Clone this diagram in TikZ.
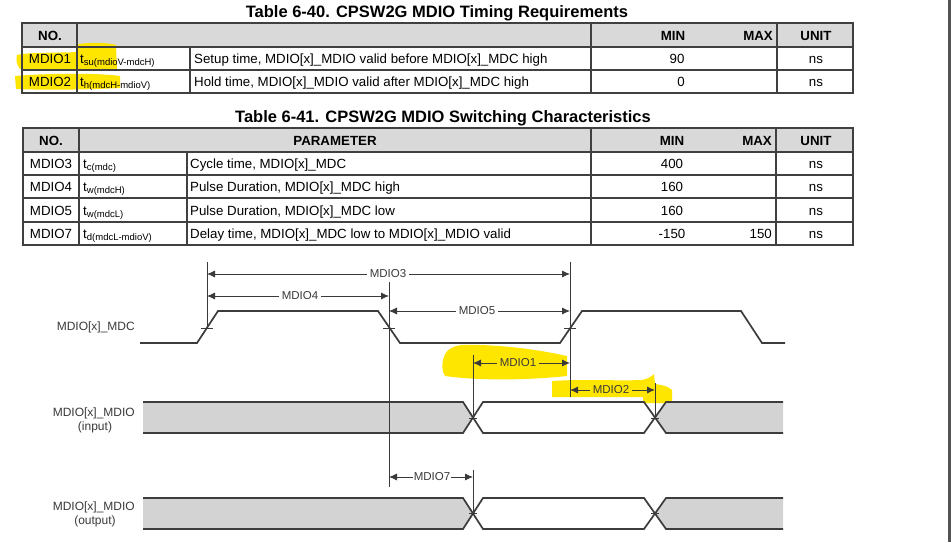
\documentclass[tikz,border=0pt]{standalone}
\usepackage{fontspec}
\setmainfont{Liberation Sans}
\usetikzlibrary{arrows.meta}
\definecolor{hdr}{HTML}{D9D9D9}
\definecolor{busgray}{HTML}{D3D3D3}
\definecolor{grid}{HTML}{404040}
\definecolor{sig}{HTML}{3C3C3C}
\definecolor{lbl}{HTML}{3A3A3A}
\definecolor{hl}{HTML}{FFE600}
\newcommand{\sbs}[1]{\raisebox{-0.4ex}{\fontsize{9.5}{10}\selectfont #1}}
\tikzset{
  ttl/.style={font=\fontsize{16.5}{18}\selectfont\bfseries, inner sep=0pt},
  cell/.style={font=\fontsize{13.3}{15}\selectfont, inner sep=0pt, text=black, anchor=base},
  hcell/.style={font=\fontsize{13.3}{15}\selectfont\bfseries, inner sep=0pt, text=black, anchor=base},
  gridline/.style={draw=grid, line width=1.1pt},
  siglbl/.style={font=\fontsize{12}{13}\selectfont, text=lbl, inner sep=0pt},
  dimlbl/.style={font=\fontsize{11.5}{12}\selectfont, text=lbl, inner sep=3pt},
  dim/.style={draw=lbl, line width=0.8pt, -{Latex[length=8pt,width=7pt]}},
  refline/.style={draw=lbl, line width=0.8pt},
  wave/.style={draw=sig, line width=1.7pt, line join=miter},
  tick/.style={draw=lbl, line width=0.8pt},
  hilite/.style={fill=hl, draw=none}
}
\begin{document}
\begin{tikzpicture}[x=1pt, y=-1pt]
\useasboundingbox (0,0) rectangle (951,542);
\fill[white] (0,0) rectangle (951,542);
\fill[grid!90] (948,0) rectangle (951,542);

% ---------------- Table 6-40 ----------------
\node[ttl] (t1) at (437,13) {Table 6-40. CPSW2G MDIO Timing Requirements};
\fill[hdr] (22,23) rectangle (853,47);
% highlights
\fill[hilite] (17,55) .. controls (30,52) and (60,53) .. (77,52) -- (78,44) .. controls (95,42) and (110,43) .. (116,45) -- (117,70) -- (20,69) .. controls (16,64) and (16,59) .. (17,55) -- cycle;
\fill[hilite] (15,76) .. controls (50,73) and (100,73) .. (120,76) -- (120,88) .. controls (80,90) and (40,90) .. (16,89) -- cycle;
% grid
\draw[gridline] (22,23) rectangle (853,93);
\draw[gridline] (22,47) -- (853,47);
\draw[gridline] (22,70) -- (853,70);
\draw[gridline] (77,23) -- (77,93);
\draw[gridline] (190,47) -- (190,93);
\draw[gridline] (591,23) -- (591,93);
\draw[gridline] (777,23) -- (777,93);
% header
\node[hcell] (h1no) at (50,40) {NO.};
\node[hcell] (h1min) at (673,40) {MIN};
\node[hcell, anchor=base east] (h1max) at (773,40) {MAX};
\node[hcell] (h1unit) at (816,40) {UNIT};
% rows
\node[cell] (r1no) at (50,63) {MDIO1};
\node[cell, anchor=base west] (r1sym) at (80,63) {t\sbs{su(mdioV-mdcH)}};
\node[cell, anchor=base west] (r1par) at (194,63) {Setup time, MDIO[x]\_MDIO valid before MDIO[x]\_MDC high};
\node[cell] (r1min) at (677,63) {90};
\node[cell] (r1unit) at (816,63) {ns};
\node[cell] (r2no) at (50,86) {MDIO2};
\node[cell, anchor=base west] (r2sym) at (80,86) {t\sbs{h(mdcH-mdioV)}};
\node[cell, anchor=base west] (r2par) at (194,86) {Hold time, MDIO[x]\_MDIO valid after MDIO[x]\_MDC high};
\node[cell] (r2min) at (681,86) {0};
\node[cell] (r2unit) at (816,86) {ns};

% ---------------- Table 6-41 ----------------
\node[ttl] (t2) at (443,118) {Table 6-41. CPSW2G MDIO Switching Characteristics};
\fill[hdr] (23,128) rectangle (853,152);
\draw[gridline] (23,128) rectangle (853,245);
\foreach \yy in {152,175,198,222} \draw[gridline] (23,\yy) -- (853,\yy);
\draw[gridline] (79,128) -- (79,245);
\draw[gridline] (187,152) -- (187,245);
\draw[gridline] (591,128) -- (591,245);
\draw[gridline] (776,128) -- (776,245);
\node[hcell] (h2no) at (51,145) {NO.};
\node[hcell] (h2par) at (335,145) {PARAMETER};
\node[hcell] (h2min) at (672,145) {MIN};
\node[hcell, anchor=base east] (h2max) at (772,145) {MAX};
\node[hcell] (h2unit) at (816,145) {UNIT};
\node[cell] (r3no) at (51,168) {MDIO3};
\node[cell, anchor=base west] (r3sym) at (83,168) {t\sbs{c(mdc)}};
\node[cell, anchor=base west] (r3par) at (190,168) {Cycle time, MDIO[x]\_MDC};
\node[cell] (r3min) at (672,168) {400};
\node[cell] (r3unit) at (816,168) {ns};
\node[cell] (r4no) at (51,191) {MDIO4};
\node[cell, anchor=base west] (r4sym) at (83,191) {t\sbs{w(mdcH)}};
\node[cell, anchor=base west] (r4par) at (190,191) {Pulse Duration, MDIO[x]\_MDC high};
\node[cell] (r4min) at (672,191) {160};
\node[cell] (r4unit) at (816,191) {ns};
\node[cell] (r5no) at (51,215) {MDIO5};
\node[cell, anchor=base west] (r5sym) at (83,215) {t\sbs{w(mdcL)}};
\node[cell, anchor=base west] (r5par) at (190,215) {Pulse Duration, MDIO[x]\_MDC low};
\node[cell] (r5min) at (672,215) {160};
\node[cell] (r5unit) at (816,215) {ns};
\node[cell] (r7no) at (51,238) {MDIO7};
\node[cell, anchor=base west] (r7sym) at (83,238) {t\sbs{d(mdcL-mdioV)}};
\node[cell, anchor=base west] (r7par) at (190,238) {Delay time, MDIO[x]\_MDC low to MDIO[x]\_MDIO valid};
\node[cell] (r7min) at (672,238) {-150};
\node[cell, anchor=base east] (r7max) at (772,238) {150};
\node[cell] (r7unit) at (816,238) {ns};

% ---------------- Timing diagram ----------------
% highlights
\fill[hilite] (443,360) .. controls (445,350) and (452,346) .. (462,345) .. controls (500,344) and (540,350) .. (567,356) -- (567,376) .. controls (530,380) and (480,381) .. (445,376) .. controls (442,372) and (442,365) .. (443,360) -- cycle;
\fill[hilite] (552,381) .. controls (580,379) and (620,381) .. (642,380) .. controls (648,379) and (652,376) .. (654,374) -- (655,384) .. controls (662,385) and (668,386) .. (672,390) -- (672,403) -- (643,403) -- (643,397) -- (552,397) -- cycle;

% signal labels
\node[siglbl, anchor=east] (lmdc) at (135,327) {MDIO[x]\_MDC};
\node[siglbl, anchor=east] (lin) at (135,413) {MDIO[x]\_MDIO};
\node[siglbl] (lin2) at (95,427) {(input)};
\node[siglbl, anchor=east] (lout) at (135,507) {MDIO[x]\_MDIO};
\node[siglbl] (lout2) at (95,521) {(output)};

% coordinates
\coordinate (xa) at (207,262);
\coordinate (xb) at (389,282);
\coordinate (xc) at (570,262);
\coordinate (xd) at (473,355);
\coordinate (xe) at (655,383);
\coordinate (xf) at (473,470);
\coordinate (ca) at (207,328);
\coordinate (cb) at (389,487);
\coordinate (cc) at (570,397);
\coordinate (cd) at (473,418);
\coordinate (ce) at (655,418);
\coordinate (cf) at (473,513);

% bus fills
\fill[busgray] (143,402) -- (463,402) -- (473,418) -- (463,433) -- (143,433) -- cycle;
\fill[busgray] (655,418) -- (666,402) -- (783,402) -- (783,433) -- (666,433) -- cycle;
\fill[busgray] (143,498) -- (463,498) -- (473,513.5) -- (463,529) -- (143,529) -- cycle;
\fill[busgray] (655,513.5) -- (666,498) -- (783,498) -- (783,529) -- (666,529) -- cycle;

% reference lines
\draw[refline] (xa) -- (ca);
\draw[refline] (xb) -- (cb);
\draw[refline] (xc) -- (cc);
\draw[refline] (xd) -- (cd);
\draw[refline] (xe) -- (ce);
\draw[refline] (xf) -- (cf);

% MDC waveform
\draw[wave] (140,343) -- (197,343) -- (218,311) -- (378,311) -- (400,343) -- (560,343) -- (582,311) -- (741,311) -- (762,343) -- (785,343);
% ticks on MDC
\draw[tick] (201,328) -- (213,328);
\draw[tick] (383,328) -- (395,328);
\draw[tick] (564,328) -- (576,328);

% input bus outline
\draw[wave] (143,402) -- (463,402) -- (483,433) -- (644,433) -- (666,402) -- (783,402);
\draw[wave] (143,433) -- (463,433) -- (483,402) -- (644,402) -- (666,433) -- (783,433);
% output bus outline
\draw[wave] (143,498) -- (463,498) -- (483,529) -- (644,529) -- (666,498) -- (783,498);
\draw[wave] (143,529) -- (463,529) -- (483,498) -- (644,498) -- (666,529) -- (783,529);
% crossing ticks
\draw[tick] (469,418) -- (477,418);
\draw[tick] (651,418) -- (659,418);
\draw[tick] (469,513.5) -- (477,513.5);
\draw[tick] (651,513.5) -- (659,513.5);

% dimension labels and arrows
\coordinate (d3l) at (207,274); \coordinate (d3r) at (570,274);
\node[dimlbl] (m3) at (388,274) {MDIO3};
\draw[dim] (m3.west) -- (d3l);
\draw[dim] (m3.east) -- (d3r);

\coordinate (d4l) at (207,296); \coordinate (d4r) at (389,296);
\node[dimlbl] (m4) at (300,296) {MDIO4};
\draw[dim] (m4.west) -- (d4l);
\draw[dim] (m4.east) -- (d4r);

\coordinate (d5l) at (389,311); \coordinate (d5r) at (570,311);
\node[dimlbl] (m5) at (477,311) {MDIO5};
\draw[dim] (m5.west) -- (d5l);
\draw[dim] (m5.east) -- (d5r);

\coordinate (d1l) at (473,363); \coordinate (d1r) at (570,363);
\node[dimlbl] (m1) at (518,363) {MDIO1};
\draw[dim] (m1.west) -- (d1l);
\draw[dim] (m1.east) -- (d1r);

\coordinate (d2l) at (570,390); \coordinate (d2r) at (655,390);
\node[dimlbl] (m2) at (611,390) {MDIO2};
\draw[dim] (m2.west) -- (d2l);
\draw[dim] (m2.east) -- (d2r);

\coordinate (d7l) at (389,477); \coordinate (d7r) at (473,477);
\node[dimlbl, inner sep=1pt] (m7) at (432,477) {MDIO7};
\draw[dim] (m7.west) -- (d7l);
\draw[dim] (m7.east) -- (d7r);
\end{tikzpicture}
\end{document}
